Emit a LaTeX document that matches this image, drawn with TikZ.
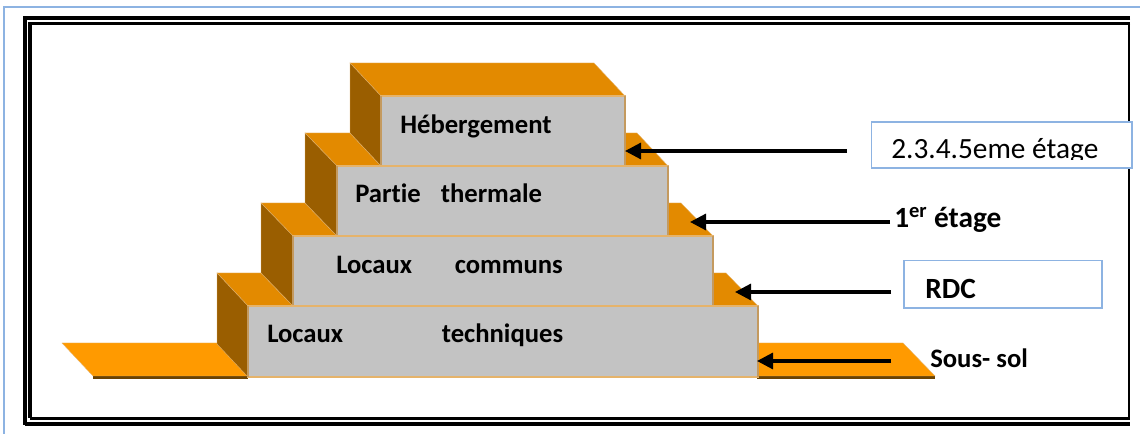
\documentclass[tikz,border=0pt]{standalone}
\usepackage{fontspec}
\setmainfont[Ligatures=NoCommon]{Carlito}
\usetikzlibrary{calc,positioning,arrows.meta}
\definecolor{bleucadre}{HTML}{8DB3E2}
\definecolor{orangehaut}{HTML}{E38A00}
\definecolor{orangesol}{HTML}{FF9A00}
\definecolor{brunside}{HTML}{9A5E00}
\definecolor{brunsol}{HTML}{6B4200}
\definecolor{grisface}{HTML}{C3C3C3}
\definecolor{bordface}{HTML}{E5B36B}
\definecolor{bordcote}{HTML}{C49A5F}
\tikzset{
	face/.style={draw=bordface,line width=1.2pt,fill=grisface},
	dessus/.style={draw=bordface,line width=.3pt,fill=orangehaut},
	cote/.style={draw=bordface,line width=.3pt,fill=brunside},
	sol/.style={draw=bordface,line width=.3pt,fill=orangesol},
	fleche/.style={line width=2.4pt,-{Triangle[length=12pt,width=12pt]}},
	cadre/.style={draw=bleucadre,line width=.8pt},
	etiquette/.style={font=\fontsize{20}{20}\selectfont\bfseries,anchor=base west,inner sep=0pt},
	grande/.style={etiquette,font=\fontsize{22}{22}\selectfont\bfseries},
}
% un niveau : #1 x arriere, #2 y arriere, #3 x avant, #4 y avant, #5 y bas, #6 x droite
\newcommand{\niveau}[6]
	{
	\draw[cote] (#1,#2) -- (#3,#4) -- (#3,#5) -- (#1,#5-#4+#2) -- cycle;
	\draw[face] (#3,#4) rectangle (#6,#5);
	\draw[bordcote,line width=1.2pt] (#3,#4) -- (#3,#5) (#6,#4) -- (#6,#5);
	}

\begin{document}
\begin{tikzpicture}[x=.75pt,y=-.75pt]
\useasboundingbox (0,0) rectangle (1140,434);
\fill[white] (0,0) rectangle (1140,434);

% cadre
\draw[cadre] (4,434) -- (4,7) -- (1140,7);
\draw[line width=3pt] (1130,18) -- (25,18) -- (25,425.5);
\draw[line width=2.4pt] (1130,23.5) -- (30,23.5) -- (30,418);
\draw[line width=3pt] (25,424) -- (1130,424);
\draw[line width=2.4pt] (30,418.5) -- (1130,418.5);
\draw[line width=.9pt] (1129,23) -- (1129,418);

% sous-sol
\fill[brunsol] (93,375) rectangle (248,379);
\fill[brunsol] (757,375) rectangle (935,379);
\draw[sol] (62,343) -- (217,343) -- (248,376) -- (93,376) -- cycle;
\draw[sol] (757,343) -- (903,343) -- (935,376) -- (757,376) -- cycle;

% dessus des niveaux
\draw[dessus] (350,63) -- (594,63) -- (625,96) -- (381,96) -- cycle;
\draw[dessus] (305,133) -- (350,133) -- (381,166) -- (337,166) -- cycle;
\draw[dessus] (625,133) -- (637,133) -- (668,166) -- (625,166) -- cycle;
\draw[dessus] (261,203) -- (305,203) -- (337,236) -- (293,236) -- cycle;
\draw[dessus] (668,203) -- (681,203) -- (713,236) -- (668,236) -- cycle;
\draw[dessus] (217,273) -- (261,273) -- (293,306) -- (248,306) -- cycle;
\draw[dessus] (713,273) -- (726,273) -- (758,306) -- (713,306) -- cycle;

% faces des niveaux
\niveau{350}{63}{381}{96}{166}{625}
\niveau{305}{133}{337}{166}{236}{668}
\niveau{261}{203}{293}{236}{306}{713}
\niveau{217}{273}{248}{306}{377}{758}

% noms des niveaux
\node[etiquette] (heberg) at (400,133.5) {Hébergement};
\node[etiquette] (partie) at (355,203) {Partie\hspace{.75em}thermale};
\node[etiquette] (communs) at (336,274) {Locaux\hspace{1.6em}communs};
\node[etiquette] (techn) at (267,343) {Locaux\hspace{3.7em}techniques};

% boites de droite
\node[cadre,fill=white,minimum width=195.7pt,minimum height=34.5pt,inner sep=0pt] (boitehaut) at (1001.5,145) {};
\node[cadre,fill=white,minimum width=148.5pt,minimum height=35.3pt,inner sep=0pt] (boiterdc) at (1003,284.5) {};
\begin{scope}
\clip (872,123) rectangle (1131,159.5);
\node[anchor=base west,inner sep=0pt,font=\fontsize{22}{22}\selectfont] (etages) at (891,158.5) {2.3.4.5eme étage};
\end{scope}
\node[grande] (premier) at (894,227.5) {1\textsuperscript{er} étage};
\node[grande] (rdc) at (925,299) {RDC};
\node[etiquette] (soussol) at (930,368) {Sous- sol};

% fleches
\coordinate (d1) at (847,151);
\coordinate (f1) at (625,151);
\coordinate (d2) at (890,222);
\coordinate (f2) at (690,222);
\coordinate (d3) at (891,292);
\coordinate (f3) at (735,292);
\coordinate (d4) at (891,361);
\coordinate (f4) at (757,361);
\draw[fleche] (d1) -- (f1);
\draw[fleche] (d2) -- (f2);
\draw[fleche] (d3) -- (f3);
\draw[fleche] (d4) -- (f4);

\end{tikzpicture}
\end{document}
